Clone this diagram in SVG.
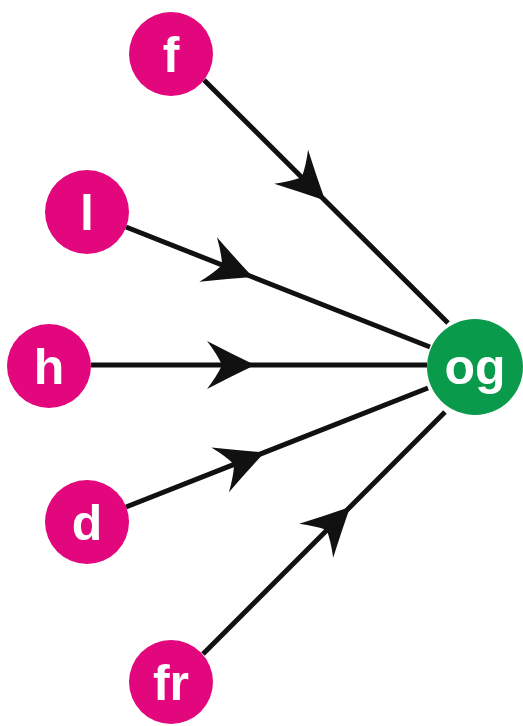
<svg xmlns="http://www.w3.org/2000/svg" width="523" height="726" viewBox="0 0 523 726">
<style>
.n{fill:#e3077d}
.g{fill:#0a9a4b}
.t{fill:#fff;font-family:"Liberation Sans",Arial,sans-serif;font-weight:bold;font-size:50px;text-anchor:middle}
.e{stroke:#111;stroke-width:5;fill:none;marker-mid:url(#ah)}
</style>
<defs>
<marker id="ah" markerUnits="userSpaceOnUse" viewBox="-50 -30 54 60" refX="0" refY="0" markerWidth="54" markerHeight="60" orient="auto">
<path d="M3,0 Q-20,-11 -45,-24 Q-35,-11 -30,0 Q-35,11 -45,24 Q-20,11 3,0 Z" fill="#111"/>
</marker>
</defs>
<rect width="523" height="726" fill="#fff"/>
<g id="edges">
<path class="e" d="M204,80 L323,198.5 L448,323"/>
<path class="e" d="M126,227 L250,276 L430,347"/>
<path class="e" d="M91,365 L252,365 L427,365"/>
<path class="e" d="M126,507 L262,453.4 L428,388"/>
<path class="e" d="M203,654 L348,509 L445,412"/>
</g>
<g id="f"><circle class="n" cx="171" cy="54" r="42"/><text class="t" x="171" y="72">f</text></g>
<g id="l"><circle class="n" cx="87" cy="212" r="42"/><text class="t" x="87" y="230">l</text></g>
<g id="h"><circle class="n" cx="49" cy="366" r="42"/><text class="t" x="49" y="384">h</text></g>
<g id="d"><circle class="n" cx="87" cy="522" r="42"/><text class="t" x="87" y="540">d</text></g>
<g id="fr"><circle class="n" cx="171" cy="682" r="42"/><text class="t" x="171" y="700">fr</text></g>
<g id="og"><circle class="g" cx="475" cy="367" r="48"/><text class="t" x="475" y="384">og</text></g>
</svg>
